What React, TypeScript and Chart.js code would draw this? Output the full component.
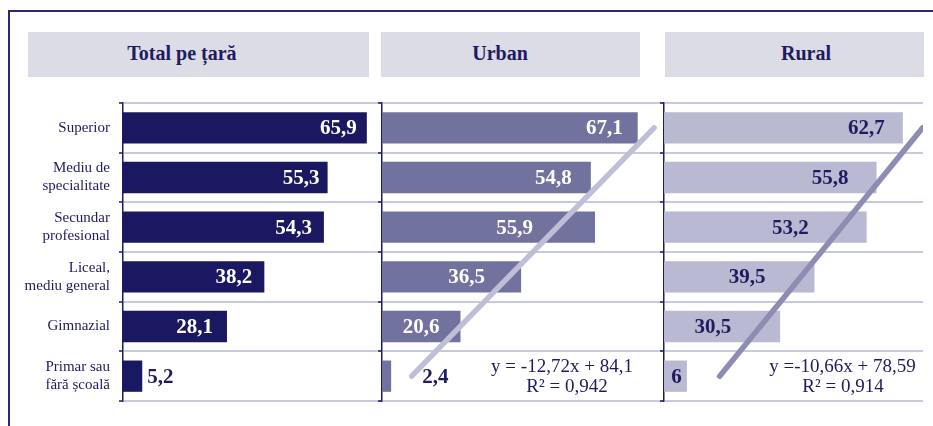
import React, { useEffect, useRef } from 'react';
import { Chart, registerables } from 'chart.js';

Chart.register(...registerables);

// ---- data ----
const categories: string[][] = [
  ['Superior'],
  ['Mediu de', 'specialitate'],
  ['Secundar', 'profesional'],
  ['Liceal,', 'mediu general'],
  ['Gimnazial'],
  ['Primar sau', 'fără școală'],
];
const panelTitles = ['Total pe țară', 'Urban', 'Rural'];
const totalValues = [65.9, 55.3, 54.3, 38.2, 28.1, 5.2];
const urbanValues = [67.1, 54.8, 55.9, 36.5, 20.6, 2.4];
const ruralValues = [62.7, 55.8, 53.2, 39.5, 30.5, 6];
// trend line values at first and last category
const urbanTrendEnds = [71.4, 7.8];
const ruralTrendEnds = [67.9, 14.6];
const urbanEquation = ['y = -12,72x + 84,1', 'R² = 0,942'];
const ruralEquation = ['y =-10,66x + 78,59', 'R² = 0,914'];

// ---- styles ----
const NAVY = '#1E1B5E';
const GRID = '#C9C9DD';
const SERIF = "'Liberation Serif', 'DejaVu Serif', serif";

Chart.defaults.font.family = SERIF;

type PanelCfg = {
  values: number[];
  max: number;
  barColor: string;
  insideColor: string;
  outsideColor: string;
  insets: number[]; // >=0: inside, right-aligned; <0: outside, left-aligned
  trend: number[] | null;
  trendColor: string;
  equation: string[] | null;
  eqDx: number[];
  showLabels: boolean;
  left: number;
  width: number;
  axisW: number;
};

const panels: PanelCfg[] = [
  {
    values: totalValues, max: 70, barColor: '#1B1862', insideColor: '#FFFFFF', outsideColor: NAVY,
    insets: [10, 8, 12, 12, 14, -5], trend: null, trendColor: '', equation: null, eqDx: [0, 0],
    showLabels: true, left: 0, width: 382, axisW: 123,
  },
  {
    values: urbanValues, max: 74, barColor: '#72729F', insideColor: '#FFFFFF', outsideColor: NAVY,
    insets: [15, 19, 62, 36, 21, -31], trend: urbanTrendEnds, trendColor: '#BEBED6', equation: urbanEquation, eqDx: [180, 185],
    showLabels: false, left: 376, width: 288, axisW: 6,
  },
  {
    values: ruralValues, max: 68, barColor: '#B9B9D2', insideColor: NAVY, outsideColor: NAVY,
    insets: [18, 28, 58, 49, 49, 5], trend: ruralTrendEnds, trendColor: '#8D8DB4', equation: ruralEquation, eqDx: [178.5, 179],
    showLabels: false, left: 658, width: 265, axisW: 6,
  },
];

const fmt = (v: number) => String(v).replace('.', ',');

function PanelChart({ cfg }: { cfg: PanelCfg }) {
  const ref = useRef<HTMLCanvasElement>(null);
  useEffect(() => {
    if (!ref.current) return;
    const labelPlugin = {
      id: 'valueLabels',
      afterDatasetsDraw(chart: any) {
        const ctx = chart.ctx;
        const meta = chart.getDatasetMeta(0);
        ctx.save();
        ctx.font = `bold 21px ${SERIF}`;
        ctx.textBaseline = 'middle';
        meta.data.forEach((bar: any, i: number) => {
          const inset = cfg.insets[i];
          const text = fmt(cfg.values[i]);
          if (inset >= 0) {
            ctx.textAlign = 'right';
            ctx.fillStyle = cfg.insideColor;
          } else {
            ctx.textAlign = 'left';
            ctx.fillStyle = cfg.outsideColor;
          }
          ctx.fillText(text, bar.x - inset, bar.y + 1);
        });
        if (cfg.equation) {
          const yc = chart.scales.y.getPixelForValue(categories.length - 1);
          const left = chart.chartArea.left;
          ctx.font = `19px ${SERIF}`;
          ctx.fillStyle = NAVY;
          ctx.textAlign = 'center';
          ctx.fillText(cfg.equation[0], left + cfg.eqDx[0], yc - 9);
          ctx.fillText(cfg.equation[1], left + cfg.eqDx[1], yc + 11);
        }
        ctx.restore();
      },
    };

    const datasets: any[] = [
      {
        type: 'bar',
        data: cfg.values,
        backgroundColor: cfg.barColor,
        barPercentage: 0.63,
        categoryPercentage: 1,
        order: 2,
      },
    ];
    if (cfg.trend) {
      const trendData: (number | null)[] = categories.map(() => null);
      trendData[0] = cfg.trend[0];
      trendData[categories.length - 1] = cfg.trend[1];
      datasets.push({
        type: 'line',
        indexAxis: 'y',
        data: trendData,
        spanGaps: true,
        borderColor: cfg.trendColor,
        borderWidth: 5.5,
        borderCapStyle: 'round',
        pointRadius: 0,
        fill: false,
        clip: false,
        order: 1,
      });
    }

    const chart = new Chart(ref.current, {
      type: 'bar',
      data: { labels: categories, datasets },
      options: {
        indexAxis: 'y',
        animation: false,
        responsive: false,
        maintainAspectRatio: false,
        layout: { padding: { top: 7, bottom: 7, left: 0, right: 0 } },
        plugins: { legend: { display: false }, tooltip: { enabled: false } },
        scales: {
          x: { display: false, min: 0, max: cfg.max },
          y: {
            offset: true,
            grid: {
              offset: true,
              color: GRID,
              lineWidth: 2,
              tickColor: NAVY,
              tickLength: 4,
              tickWidth: 1.5,
              drawTicks: true,
            },
            border: { display: true, color: NAVY, width: 1.5 },
            ticks: {
              display: cfg.showLabels,
              color: NAVY,
              padding: 9,
              font: { family: SERIF, size: 15, lineHeight: 1.2 },
            },
            afterFit: (scale: any) => {
              scale.width = cfg.axisW;
              scale.paddingTop = 0;
              scale.paddingBottom = 0;
            },
          },
        },
      } as any,
      plugins: [labelPlugin],
    });
    return () => chart.destroy();
  }, [cfg]);

  return (
    <canvas
      ref={ref}
      width={cfg.width}
      height={312}
      style={{ position: 'absolute', left: cfg.left, top: 96, width: cfg.width, height: 312 }}
    />
  );
}

const headerBoxes = [
  { left: 28, width: 341, center: 182 },
  { left: 381, width: 259, center: 500 },
  { left: 665, width: 259, center: 806 },
];

export default function App() {
  return (
    <div
      style={{
        position: 'fixed',
        left: 0,
        top: 0,
        width: 933,
        height: 426,
        overflow: 'hidden',
        background: '#FFFFFF',
        fontFamily: SERIF,
      }}
    >
      <div
        style={{
          position: 'absolute',
          left: 8,
          top: 10,
          width: 1000,
          height: 1000,
          border: '2px solid #2B2A6C',
          boxSizing: 'border-box',
        }}
      />
      {headerBoxes.map((b, i) => (
        <div
          key={'box' + i}
          style={{ position: 'absolute', left: b.left, top: 32, width: b.width, height: 45, background: '#DCDCE6' }}
        />
      ))}
      {headerBoxes.map((b, i) => (
        <div
          key={'title' + i}
          style={{
            position: 'absolute',
            left: b.center - 100,
            width: 200,
            top: 43,
            height: 20,
            lineHeight: '20px',
            fontSize: 20,
            fontWeight: 'bold',
            color: NAVY,
            textAlign: 'center',
            whiteSpace: 'nowrap',
          }}
        >
          {panelTitles[i]}
        </div>
      ))}
      {panels.map((p, i) => (
        <PanelChart key={'panel' + i} cfg={p} />
      ))}
    </div>
  );
}
